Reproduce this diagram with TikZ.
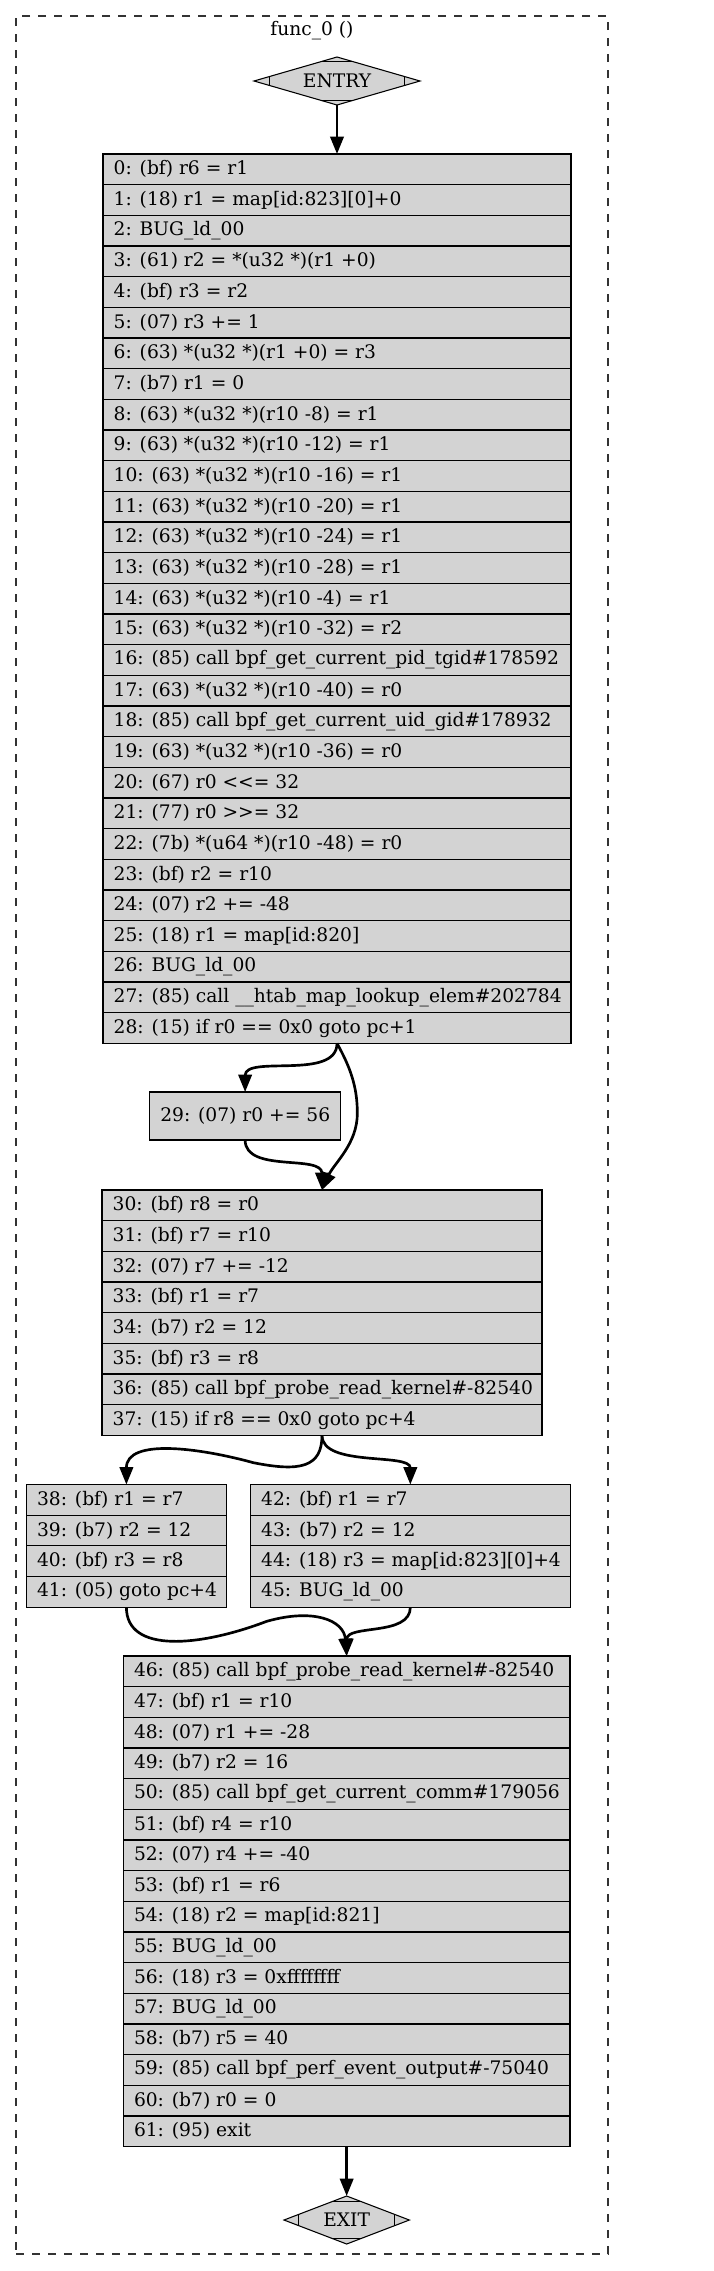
\documentclass[tikz,border=0pt]{standalone}
\usepackage{fontspec}
\setmainfont{DejaVu Serif}
\usetikzlibrary{arrows.meta,shapes.geometric,calc}
\definecolor{lgray}{HTML}{D3D3D3}
\tikzset{
  row/.style={draw=black, line width=0.8pt, fill=lgray, rectangle, minimum height=23pt,
    inner xsep=8pt, inner ysep=0pt, outer sep=0pt, anchor=north west,
    font=\fontsize{14pt}{16.8pt}\selectfont},
  edge/.style={line width=2pt, -{Triangle[length=13pt,width=10pt]}},
  mdia/.style={diamond, draw=black, fill=lgray, line width=0.8pt, minimum height=36pt,
    inner sep=0pt, outer sep=0pt, aspect=3, font=\fontsize{14pt}{16.8pt}\selectfont},
  cornermark/.style={line width=0.8pt},
  clusterbox/.style={draw=black!80, line width=1pt, dash pattern=on 6pt off 6pt,
    rectangle, inner sep=0pt, outer sep=0pt, anchor=north west},
  titletext/.style={font=\fontsize{14pt}{16.8pt}\selectfont, inner sep=0pt}
}
\newcommand\mkrows[5]{%
  \foreach \t [count=\j from 0] in {#5} {%
    \pgfmathtruncatemacro\idx{#1+\j}%
    \node[row] (n\idx) at (#2,#3-23*\j) {\makebox[#4pt][l]{\t}};%
  }}
\newcommand\mdmarks[1]{%
  \draw[cornermark] ($(#1.west)!12pt!(#1.north)$) -- ($(#1.west)!12pt!(#1.south)$);
  \draw[cornermark] ($(#1.east)!12pt!(#1.north)$) -- ($(#1.east)!12pt!(#1.south)$);
  \draw[cornermark] ($(#1.north)!12pt!(#1.west)$) -- ($(#1.north)!12pt!(#1.east)$);
  \draw[cornermark] ($(#1.south)!12pt!(#1.west)$) -- ($(#1.south)!12pt!(#1.east)$);}
\begin{document}
\begin{tikzpicture}[x=1pt,y=1pt]
\useasboundingbox (0,0) rectangle (535.5,-1703.25);
\node[clusterbox, minimum width=444pt, minimum height=1678.5pt] (cluster) at (12,-12) {};
\node[titletext] (title) at (234,-23) {func\_0 ()};

\node[mdia, minimum width=124.5pt] (entry) at (252.75,-60.75) {ENTRY};
\mdmarks{entry}

\mkrows{0}{77.25}{-115.5}{335}{%
{0: (bf) r6 = r1},
{1: (18) r1 = map[id:823][0]+0},
{2: BUG\_ld\_00},
{3: (61) r2 = *(u32 *)(r1 +0)},
{4: (bf) r3 = r2},
{5: (07) r3 += 1},
{6: (63) *(u32 *)(r1 +0) = r3},
{7: (b7) r1 = 0},
{8: (63) *(u32 *)(r10 -8) = r1},
{9: (63) *(u32 *)(r10 -12) = r1},
{10: (63) *(u32 *)(r10 -16) = r1},
{11: (63) *(u32 *)(r10 -20) = r1},
{12: (63) *(u32 *)(r10 -24) = r1},
{13: (63) *(u32 *)(r10 -28) = r1},
{14: (63) *(u32 *)(r10 -4) = r1},
{15: (63) *(u32 *)(r10 -32) = r2},
{16: (85) call bpf\_get\_current\_pid\_tgid\#178592},
{17: (63) *(u32 *)(r10 -40) = r0},
{18: (85) call bpf\_get\_current\_uid\_gid\#178932},
{19: (63) *(u32 *)(r10 -36) = r0},
{20: (67) r0 <\kern0pt<= 32},
{21: (77) r0 >\kern0pt>= 32},
{22: (7b) *(u64 *)(r10 -48) = r0},
{23: (bf) r2 = r10},
{24: (07) r2 += -48},
{25: (18) r1 = map[id:820]},
{26: BUG\_ld\_00},
{27: (85) call \_\_htab\_map\_lookup\_elem\#202784},
{28: (15) if r0 == 0x0 goto pc+1}}

\node[row, minimum height=36pt] (n29) at (112.2,-819) {\makebox[127.3pt][l]{29: (07) r0 += 56}};

\mkrows{30}{76.5}{-892.5}{314}{%
{30: (bf) r8 = r0},
{31: (bf) r7 = r10},
{32: (07) r7 += -12},
{33: (bf) r1 = r7},
{34: (b7) r2 = 12},
{35: (bf) r3 = r8},
{36: (85) call bpf\_probe\_read\_kernel\#-82540},
{37: (15) if r8 == 0x0 goto pc+4}}

\mkrows{38}{19.8}{-1113.4}{134}{%
{38: (bf) r1 = r7},
{39: (b7) r2 = 12},
{40: (bf) r3 = r8},
{41: (05) goto pc+4}}

\mkrows{42}{187.9}{-1113.4}{223.7}{%
{42: (bf) r1 = r7},
{43: (b7) r2 = 12},
{44: (18) r3 = map[id:823][0]+4},
{45: BUG\_ld\_00}}

\mkrows{46}{92.5}{-1242}{319}{%
{46: (85) call bpf\_probe\_read\_kernel\#-82540},
{47: (bf) r1 = r10},
{48: (07) r1 += -28},
{49: (b7) r2 = 16},
{50: (85) call bpf\_get\_current\_comm\#179056},
{51: (bf) r4 = r10},
{52: (07) r4 += -40},
{53: (bf) r1 = r6},
{54: (18) r2 = map[id:821]},
{55: BUG\_ld\_00},
{56: (18) r3 = 0xffffffff},
{57: BUG\_ld\_00},
{58: (b7) r5 = 40},
{59: (85) call bpf\_perf\_event\_output\#-75040},
{60: (b7) r0 = 0},
{61: (95) exit}}

\node[mdia, minimum width=94pt] (exit) at (260,-1665) {EXIT};
\mdmarks{exit}

\coordinate (m1) at (268,-835);
\coordinate (m2) at (190,-1097);
\coordinate (m3) at (200,-1216);

\draw[edge] (entry.south) -- (n0.north);
\draw[edge] (n28.south) .. controls +(0,-28) and +(0,28) .. (n29.north);
\draw[edge] (n28.south) .. controls +(10,-18) and +(0,20) .. (m1)
  .. controls +(0,-23) and +(9,20) .. (n30.north);
\draw[edge] (n29.south) .. controls +(0,-25) and +(0,27) .. (n30.north);
\draw[edge] (n37.south) .. controls +(0,-24) and +(35,-7) .. (m2)
  .. controls +(-40,11) and +(0,35) .. (n38.north);
\draw[edge] (n37.south) .. controls +(0,-24) and +(0,24) .. (n42.north);
\draw[edge] (n41.south) .. controls +(0,-35) and +(-50,-19) .. (m3)
  .. controls +(35,10) and +(-2,27) .. (n46.north);
\draw[edge] (n45.south) .. controls +(0,-22) and +(0,24) .. (n46.north);
\draw[edge] (n61.south) -- (exit.north);
\end{tikzpicture}
\end{document}
